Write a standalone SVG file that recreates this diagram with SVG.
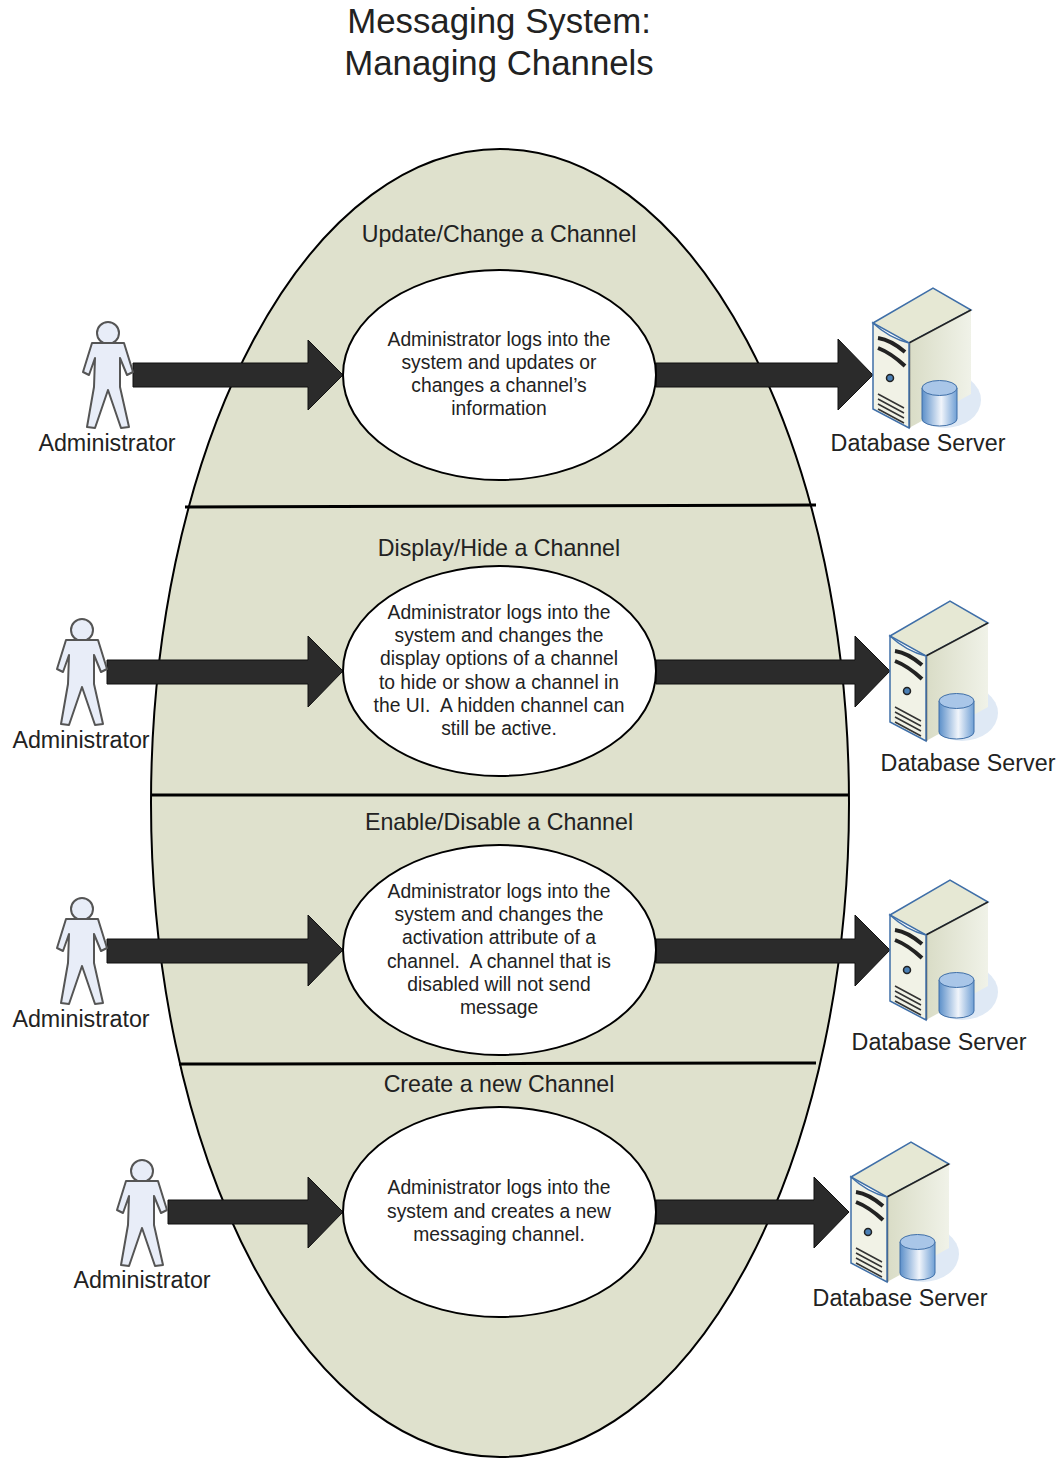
<svg xmlns="http://www.w3.org/2000/svg" width="1061" height="1458" viewBox="0 0 1061 1458">
<style>
text{font-family:"Liberation Sans",Arial,sans-serif;fill:#222;text-anchor:middle}
.title{font-size:34.800px}
.head{font-size:23.200px}
.lab{font-size:23.300px}
.body{font-size:19.300px}
.inner{fill:#fff;stroke:#000;stroke-width:2}
.div{stroke:#000;stroke-width:3;fill:none}
.arrow{fill:#2b2b2b;stroke:#111;stroke-width:1}
</style>
<defs>
<linearGradient id="cyl" x1="0" x2="1" y1="0" y2="0"><stop offset="0" stop-color="#5b8fc9"/><stop offset=".55" stop-color="#f1f5fb"/><stop offset="1" stop-color="#6f9fd4"/></linearGradient>
<linearGradient id="side" x1="0" x2="1" y1="0" y2="0"><stop offset="0" stop-color="#d9dcc6"/><stop offset="1" stop-color="#f0f2e8"/></linearGradient>
<g id="person">
<circle cx="0" cy="0" r="11" fill="#e8edf8" stroke="#555" stroke-width="2"/>
<path d="M-16 10 L16 10 L25 39 L19 42 L12 25 L12 54 L21 94 L13 95 L0 57 L-13 95 L-21 94 L-14 54 L-13 25 L-19 42 L-25 39 Z" fill="#e8edf8" stroke="#555" stroke-width="2" stroke-linejoin="round"/>
</g>
<g id="server">
<ellipse cx="72" cy="112" rx="36" ry="28" fill="#dfe9f5"/>
<path d="M0 35 L60 0 L98 22 L36 55 Z" fill="#e6e8d4" stroke="#3f6fa8" stroke-width="1.500"/>
<path d="M36 55 L98 22 L98 106 L36 140 Z" fill="url(#side)"/>
<path d="M36 55 L98 22" stroke="#222" stroke-width="1.500" fill="none"/>
<path d="M36 55 V140" stroke="#555" stroke-width="2.500" fill="none"/>
<path d="M0 35 Q16 50 36 55 L36 140 L0 121 Z" fill="#f1f2e6" stroke="#3f6fa8" stroke-width="1.500"/>
<path d="M5 50 Q18 52 32 64 M5 60 Q18 65 32 78" stroke="#222" stroke-width="4" fill="none"/>
<circle cx="17" cy="90" r="3.500" fill="#4a7fb5" stroke="#222" stroke-width="1.500"/>
<path d="M5 106 L31 120 M5 111 L31 125 M5 116 L31 130 M5 121 L31 135" stroke="#333" stroke-width="1.500" fill="none"/>
<path d="M49 100 V131 A17.500 7 0 0 0 84 131 V100 Z" fill="url(#cyl)" stroke="#3f6fa8" stroke-width="1"/>
<ellipse cx="66.500" cy="100" rx="17.500" ry="7.500" fill="#a9c6e8" stroke="#3f6fa8" stroke-width="1"/>
</g>
</defs>
<text class="title" x="499" y="33">Messaging System:</text>
<text class="title" x="499" y="74.500">Managing Channels</text>
<g id="boundary">
<ellipse cx="500" cy="803" rx="349" ry="654" fill="#dfe1cd" stroke="#000" stroke-width="2"/>
<line class="div" x1="185" y1="507" x2="816" y2="505"/>
<line class="div" x1="151" y1="795" x2="849" y2="795"/>
<line class="div" x1="179" y1="1064" x2="816" y2="1063"/>
<text class="head" x="499" y="242">Update/Change a Channel</text>
<text class="head" x="499" y="556">Display/Hide a Channel</text>
<text class="head" x="499" y="830">Enable/Disable a Channel</text>
<text class="head" x="499" y="1092">Create a new Channel</text>
</g>
<g id="connectors">
<path class="arrow" d="M133 363 H308 V340 L343 375 L308 410 V387 H133 Z"/>
<path class="arrow" d="M656 363 H838 V339 L873 375 L838 410 V387 H656 Z"/>
<path class="arrow" d="M107 660 H308 V636 L343 671 L308 707 V684 H107 Z"/>
<path class="arrow" d="M656 660 H855 V636 L890 671 L855 707 V684 H656 Z"/>
<path class="arrow" d="M107 939 H308 V915 L343 950 L308 986 V963 H107 Z"/>
<path class="arrow" d="M656 939 H855 V915 L890 950 L855 986 V963 H656 Z"/>
<path class="arrow" d="M168 1200 H308 V1177 L343 1212 L308 1248 V1224 H168 Z"/>
<path class="arrow" d="M656 1200 H814 V1177 L849 1212 L814 1248 V1224 H656 Z"/>
</g>
<g id="uc1"><ellipse class="inner" cx="499.500" cy="375" rx="156.500" ry="105"/>
<text class="body" x="499" y="346">Administrator logs into the</text><text class="body" x="499" y="369">system and updates or</text><text class="body" x="499" y="392">changes a channel’s</text><text class="body" x="499" y="415">information</text></g>
<g id="uc2"><ellipse class="inner" cx="499.500" cy="671" rx="156.500" ry="105"/>
<text class="body" x="499" y="619">Administrator logs into the</text><text class="body" x="499" y="642">system and changes the</text><text class="body" x="499" y="665">display options of a channel</text><text class="body" x="499" y="689">to hide or show a channel in</text><text class="body" x="499" y="712" xml:space="preserve">the UI.  A hidden channel can</text><text class="body" x="499" y="735">still be active.</text></g>
<g id="uc3"><ellipse class="inner" cx="499.500" cy="950" rx="156.500" ry="105"/>
<text class="body" x="499" y="898">Administrator logs into the</text><text class="body" x="499" y="921">system and changes the</text><text class="body" x="499" y="944">activation attribute of a</text><text class="body" x="499" y="968" xml:space="preserve">channel.  A channel that is</text><text class="body" x="499" y="991">disabled will not send</text><text class="body" x="499" y="1014">message</text></g>
<g id="uc4"><ellipse class="inner" cx="499.500" cy="1212" rx="156.500" ry="105"/>
<text class="body" x="499" y="1194">Administrator logs into the</text><text class="body" x="499" y="1218">system and creates a new</text><text class="body" x="499" y="1241">messaging channel.</text></g>
<g id="actor1"><use href="#person" x="108" y="333"/><text class="lab" x="107" y="451">Administrator</text></g>
<g id="actor2"><use href="#person" x="82" y="630"/><text class="lab" x="81" y="748">Administrator</text></g>
<g id="actor3"><use href="#person" x="82" y="909"/><text class="lab" x="81" y="1027">Administrator</text></g>
<g id="actor4"><use href="#person" x="142" y="1171"/><text class="lab" x="142" y="1288">Administrator</text></g>
<g id="db1"><use href="#server" x="873" y="288"/><text class="lab" x="918" y="451">Database Server</text></g>
<g id="db2"><use href="#server" x="890" y="601"/><text class="lab" x="968" y="771">Database Server</text></g>
<g id="db3"><use href="#server" x="890" y="880"/><text class="lab" x="939" y="1050">Database Server</text></g>
<g id="db4"><use href="#server" x="851" y="1142"/><text class="lab" x="900" y="1306">Database Server</text></g>
</svg>
